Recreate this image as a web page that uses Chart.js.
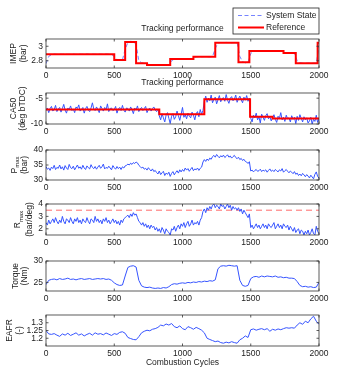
<!DOCTYPE html>
<html lang="en">
  <head>
    <meta charset="utf-8" />
    <title>Tracking performance</title>
    <script src="https://cdn.jsdelivr.net/npm/chart.js@4.4.1/dist/chart.umd.min.js"></script>
    <style>
      * {
        margin: 0;
        padding: 0;
        box-sizing: border-box;
      }
      body {
        background: #ffffff;
      }
      .figure {
        position: relative;
        width: 352px;
        height: 390px;
        overflow: hidden;
      }
      .figure canvas {
        position: absolute;
        left: 0;
        top: 0;
      }
    </style>
  </head>
  <body>
    <div class="figure">
      <canvas id="imep" width="352" height="390"></canvas>
      <canvas id="ca50" width="352" height="390"></canvas>
      <canvas id="pmax" width="352" height="390"></canvas>
      <canvas id="rmax" width="352" height="390"></canvas>
      <canvas id="torque" width="352" height="390"></canvas>
      <canvas id="eafr" width="352" height="390"></canvas>
    </div>
    <script>
      // x axis
      const xTicks = [0, 500, 1000, 1500, 2000];

      // IMEP: reference steps (value holds from the cycle on) and system state every 20 cycles
      const imepRefCycles = [0, 500, 580, 660, 740, 910, 1080, 1240, 1410, 1490, 1740, 1830, 1990, 2000];
      const imepRef = [2.89, 2.81, 3.06, 2.765, 2.74, 2.824, 2.856, 3.05, 2.78, 2.934, 2.907, 2.765, 3.05, 3.05];
      const imepState = [
        2.76, 2.86, 2.885, 2.892, 2.888, 2.891, 2.889, 2.893, 2.888, 2.89,
        2.891, 2.887, 2.892, 2.889, 2.89, 2.893, 2.888, 2.891, 2.889, 2.892,
        2.89, 2.888, 2.893, 2.889, 2.886, 2.86, 2.82, 2.808, 2.812,
        2.96, 3.05, 3.068, 3.063, 3.02,
        2.8, 2.772, 2.766, 2.758, 2.745, 2.741, 2.738, 2.742, 2.739, 2.741, 2.74, 2.742,
        2.8, 2.82, 2.826, 2.822, 2.825, 2.823, 2.826, 2.824,
        2.84, 2.853, 2.857, 2.855, 2.858, 2.856, 2.854, 2.857,
        2.97, 3.045, 3.052, 3.049, 3.053, 3.05, 3.048, 3.052, 3.05,
        2.86, 2.785, 2.772, 2.776,
        2.9, 2.93, 2.936, 2.933, 2.935, 2.932, 2.936, 2.934, 2.935, 2.933, 2.936, 2.934, 2.93,
        2.91, 2.906, 2.908, 2.905,
        2.8, 2.772, 2.766, 2.764, 2.767, 2.765, 2.766, 2.764,
        3.0
      ];
      const imepTicks = [2.8, 3];

      // CA50: reference steps and state every 10 cycles
      const ca50RefCycles = [0, 830, 1160, 1495, 1660, 2000];
      const ca50Ref = [-7.2, -8.1, -5.2, -8.6, -8.95, -8.95];
      const ca50 = [
        -7.4, -6.9, -7.8, -7.0, -6.6, -7.5, -7.2, -6.4, -7.6, -7.1,
        -6.8, -7.7, -7.0, -6.2, -7.3, -7.9, -6.9, -7.2, -6.5, -7.4,
        -7.1, -7.8, -6.7, -7.0, -6.3, -7.5, -7.2, -6.8, -7.9, -7.0,
        -6.6, -7.3, -7.6, -6.9, -5.9, -7.1, -7.4, -6.7, -7.2, -7.8,
        -6.5, -7.0, -7.5, -6.8, -7.3, -6.1, -7.6, -7.0, -6.9, -7.4,
        -7.2, -6.6, -7.9, -7.1, -6.8, -7.4, -6.4, -7.3, -7.7, -6.9,
        -7.0, -7.5, -6.7, -7.2, -8.0, -6.9, -7.3, -6.5, -7.6, -7.1,
        -6.8, -7.4, -7.0, -6.6, -7.8, -7.2, -6.9, -7.5, -7.0, -6.7,
        -7.3, -7.6, -7.1, -8.4, -9.2, -8.0, -8.8, -9.6, -8.3, -7.8,
        -8.9, -9.9, -8.5, -8.0, -9.1, -8.6, -7.5, -8.4, -9.3, -8.1,
        -6.8, -8.7, -8.2, -9.0, -7.9, -8.5, -8.8, -7.7, -8.3, -9.2,
        -8.0, -7.6, -8.6, -7.2, -8.1, -7.4, -5.6, -4.6, -5.8, -5.0,
        -5.5, -4.4, -5.9, -5.2, -4.8, -6.1, -5.3, -4.5, -5.7, -5.1,
        -4.9, -5.6, -4.3, -5.4, -6.0, -5.0, -4.7, -5.5, -5.2, -4.4,
        -5.8, -5.1, -4.6, -5.3, -5.9, -4.8, -5.4, -4.5, -5.6, -5.0,
        -8.9, -9.6, -8.3, -8.8, -7.9, -9.2, -8.6, -9.8, -8.1, -8.7,
        -9.3, -8.4, -8.0, -9.0, -8.6, -9.4, -8.8, -8.2, -9.1, -9.7,
        -8.5, -8.9, -7.8, -9.2, -8.7, -9.5, -8.3, -9.0, -8.8, -9.6,
        -8.4, -9.1, -8.7, -9.9, -8.5, -9.3, -8.2, -8.9, -9.6, -8.6,
        -9.2, -8.8, -9.8, -9.4, -8.7, -10.0, -9.1, -9.5, -8.3, -9.7, -9.0
      ];
      const ca50Ticks = [-10, -5];

      // Pmax every 10 cycles
      const pmax = [
        34.5, 33.6, 34.0, 33.2, 34.3, 33.8, 34.9, 33.5, 34.2, 33.9,
        35.0, 33.7, 34.4, 33.3, 34.8, 34.0, 33.5, 35.2, 34.1, 33.8,
        34.6, 33.4, 34.2, 35.0, 33.9, 34.4, 33.6, 34.9, 34.0, 33.5,
        34.7, 34.1, 33.7, 35.1, 34.2, 33.8, 34.5, 33.6, 34.3, 34.9,
        33.9, 34.4, 35.3, 33.7, 34.2, 33.9, 34.6, 34.0, 33.4, 34.8,
        34.1, 33.6, 34.5, 33.8, 34.3, 33.5, 34.4, 34.0, 34.7, 34.9,
        35.3, 35.0, 35.6, 35.2, 35.8, 35.5, 36.0, 35.7, 34.9, 34.5,
        34.0, 34.3, 33.6, 33.9, 33.3, 34.1, 33.5, 33.0, 33.7, 32.8,
        33.2, 32.5, 32.0, 33.0, 31.8, 32.4, 32.9, 31.5, 32.3, 31.9,
        32.6, 31.2, 32.2, 32.8, 31.7, 32.5, 33.1, 32.3, 33.4, 32.7,
        33.5, 32.9, 34.0, 33.3, 33.8, 32.9, 33.6, 34.2, 33.1, 33.7,
        33.4, 34.0, 33.2, 33.9, 34.3, 36.0, 36.8, 36.2, 37.0, 36.5,
        37.3, 36.9, 37.8, 38.2, 37.6, 38.5, 37.9, 37.4, 38.1, 37.7,
        38.3, 37.5, 37.9, 38.4, 37.6, 38.0, 37.3, 37.8, 38.2, 37.5,
        37.1, 37.6, 36.8, 37.2, 36.5, 36.9, 36.2, 36.0, 35.5, 36.1,
        33.0, 33.3, 32.7, 33.2, 33.5, 32.9, 33.1, 33.6, 32.8, 33.3,
        33.0, 33.4, 32.6, 33.2, 33.7, 32.9, 33.3, 32.8, 33.5, 33.1,
        32.7, 33.4, 33.0, 33.8, 32.6, 33.1, 33.5, 32.9, 32.4, 33.0,
        32.6, 32.1, 32.8, 31.9, 32.3, 31.5, 32.0, 31.4, 32.2, 31.7,
        31.1, 31.8, 31.3, 30.7, 31.6, 31.0, 30.4, 31.9, 32.7, 31.2, 30.6
      ];
      const pmaxTicks = [30, 35, 40];

      // Rmax every 10 cycles, with its limit
      const rmax = [
        2.5, 2.3, 2.7, 2.4, 2.6, 2.8, 2.5, 2.9, 2.6, 2.4,
        2.7, 2.5, 3.0, 2.6, 2.4, 2.8, 2.7, 2.5, 2.9, 2.6,
        2.4, 2.8, 2.6, 2.9, 2.5, 2.7, 2.4, 2.8, 2.6, 2.5,
        2.9, 2.6, 2.4, 2.8, 2.7, 2.5, 3.0, 2.6, 2.8, 2.5,
        2.7, 2.4, 2.8, 2.6, 2.9, 2.5, 2.7, 2.4, 2.6, 2.8,
        2.5, 2.7, 2.4, 2.6, 2.3, 2.7, 2.5, 2.8, 2.9, 3.0,
        3.1, 2.9, 3.2, 3.0, 3.3, 3.1, 3.2, 2.9, 2.6, 2.5,
        2.3, 2.5, 2.2, 2.4, 2.1, 2.3, 2.0, 2.3, 2.1, 2.2,
        1.9, 2.1, 1.8, 2.0, 1.7, 2.1, 1.9, 1.6, 2.0, 1.8,
        1.7, 1.5, 2.0, 1.9, 2.2, 1.8, 2.1, 2.3, 2.0, 2.4,
        2.2, 2.5, 2.1, 2.4, 2.6, 2.2, 2.4, 2.7, 2.3, 2.5,
        2.4, 2.6, 2.3, 2.7, 2.9, 3.4, 3.6, 3.3, 3.7, 3.5,
        3.8, 3.6, 3.9, 4.0, 3.7, 3.9, 3.8, 3.6, 4.0, 3.8,
        3.9, 3.6, 3.8, 4.0, 3.7, 3.9, 3.5, 3.8, 3.6, 3.7,
        3.5, 3.7, 3.4, 3.6, 3.2, 3.5, 3.3, 3.1, 2.9, 3.2,
        2.1, 2.3, 2.0, 2.2, 2.4, 2.1, 2.3, 2.0, 2.2, 2.4,
        2.1, 2.3, 2.0, 2.4, 2.2, 2.1, 2.3, 2.5, 2.0, 2.2,
        2.4, 2.1, 2.3, 2.0, 2.4, 2.2, 2.1, 2.3, 1.9, 2.2,
        2.0, 1.8, 2.1, 1.7, 1.9, 2.0, 1.6, 1.9, 1.8, 1.5,
        1.8, 1.6, 1.9, 1.5, 1.7, 2.0, 1.6, 1.5, 2.2, 1.8, 1.6
      ];
      const rmaxLimit = 3.5;
      const rmaxTicks = [2, 3, 4];

      // Torque every 20 cycles
      const torque = [
        24.5, 25.5, 25.7, 25.8, 25.6, 25.9, 25.7, 25.8, 26.0, 25.7,
        25.8, 25.6, 25.8, 25.9, 25.7, 25.8, 25.9, 25.7, 25.8, 25.9,
        25.8, 25.9, 25.7, 25.8, 25.5, 24.9, 24.5, 24.3, 24.4, 26.5,
        28.5, 28.8, 28.9, 28.6, 25.5, 24.2, 23.9, 23.8, 23.9, 23.7,
        23.6, 23.7, 23.6, 23.8, 23.7, 24.0, 24.5, 24.7, 24.6, 24.8,
        24.9, 24.8, 25.0, 24.9, 25.1, 25.0, 25.2, 25.1, 25.3, 25.2,
        25.4, 25.3, 25.6, 28.2, 28.8, 28.9, 28.8, 29.0, 28.9, 28.8,
        28.9, 25.5, 24.3, 24.1, 24.3, 25.9, 26.3, 26.4, 26.2, 26.5,
        26.3, 26.5, 26.4, 26.3, 26.5, 26.2, 26.3, 26.1, 26.2, 26.0,
        26.0, 25.9, 25.2, 24.3, 24.0, 24.1, 23.9, 24.0, 23.8, 23.9,
        25.0
      ];
      const torqueTicks = [25, 30];

      // EAFR every 20 cycles
      const eafr = [
        1.25, 1.228, 1.225, 1.23, 1.22, 1.212, 1.228, 1.22, 1.232, 1.218,
        1.226, 1.235, 1.22, 1.228, 1.215, 1.225, 1.232, 1.22, 1.235, 1.226,
        1.23, 1.222, 1.234, 1.226, 1.218, 1.23, 1.225, 1.238, 1.242, 1.232,
        1.205, 1.198, 1.192, 1.19, 1.21, 1.235, 1.245, 1.252, 1.248, 1.258,
        1.262, 1.27, 1.285, 1.28, 1.292, 1.285, 1.295, 1.275, 1.268, 1.28,
        1.262, 1.255, 1.275, 1.268, 1.258, 1.27, 1.262, 1.252, 1.235, 1.2,
        1.192, 1.185, 1.178, 1.182, 1.172, 1.168, 1.175, 1.17, 1.178, 1.172,
        1.168, 1.19, 1.2, 1.215, 1.205, 1.255, 1.26, 1.252, 1.258, 1.262,
        1.255, 1.262, 1.245, 1.258, 1.252, 1.26, 1.255, 1.262, 1.268, 1.265,
        1.268, 1.265, 1.285, 1.3, 1.29, 1.31, 1.3, 1.325, 1.342, 1.31,
        1.29
      ];
      const eafrTicks = [1.2, 1.25, 1.3];

      const FONT = '"Liberation Sans", Arial, Helvetica, sans-serif';
      const BLUE = "#3553ff";

      const cyclesBy10 = ca50.map((_, i) => i * 10);
      const cyclesBy20 = torque.map((_, i) => i * 20);
      const toPoints = (xs, ys) => ys.map((y, i) => ({ x: xs[i], y: y }));

      // draws the box, inward ticks, y label, caption, x label and legend
      const framePlugin = {
        id: "frame",
        afterDraw(chart, args, opts) {
          const ctx = chart.ctx;
          const a = chart.chartArea;
          const xs = chart.scales.x;
          const ys = chart.scales.y;
          ctx.save();
          ctx.strokeStyle = "#333";
          ctx.lineWidth = 0.8;
          ctx.strokeRect(a.left, a.top, a.right - a.left, a.bottom - a.top);
          const tl = 2.5;
          ctx.beginPath();
          xs.ticks.forEach((t) => {
            const px = xs.getPixelForValue(t.value);
            ctx.moveTo(px, a.bottom);
            ctx.lineTo(px, a.bottom - tl);
            ctx.moveTo(px, a.top);
            ctx.lineTo(px, a.top + tl);
          });
          ys.ticks.forEach((t) => {
            const py = ys.getPixelForValue(t.value);
            ctx.moveTo(a.left, py);
            ctx.lineTo(a.left + tl, py);
            ctx.moveTo(a.right, py);
            ctx.lineTo(a.right - tl, py);
          });
          ctx.stroke();

          ctx.fillStyle = "#222";
          ctx.textBaseline = "middle";
          const cy = (a.top + a.bottom) / 2;
          // y label, rotated, one or more lines of [text, subscript] pieces
          (opts.ylabel || []).forEach((line, li) => {
            const x0 = opts.ylabelX[li];
            const pieces = line.map(([text, sub]) => {
              ctx.font = (sub ? 6 : 8.5) + "px " + FONT;
              return { text, sub, w: ctx.measureText(text).width };
            });
            const total = pieces.reduce((s, p) => s + p.w, 0);
            ctx.save();
            ctx.translate(x0, cy);
            ctx.rotate(-Math.PI / 2);
            ctx.textAlign = "left";
            let u = -total / 2;
            pieces.forEach((p) => {
              ctx.font = (p.sub ? 6 : 8.5) + "px " + FONT;
              ctx.fillText(p.text, u, p.sub ? 3 : 0);
              u += p.w;
            });
            ctx.restore();
          });

          ctx.font = "8.5px " + FONT;
          ctx.textAlign = "center";
          const cx = (a.left + a.right) / 2;
          if (opts.caption) ctx.fillText(opts.caption, cx, a.top - 10);
          if (opts.xlabel) ctx.fillText(opts.xlabel, cx, a.bottom + 17);

          if (opts.legend) {
            const L = opts.legend;
            ctx.fillStyle = "#fff";
            ctx.fillRect(L.x, L.y, L.w, L.h);
            ctx.strokeStyle = "#222";
            ctx.lineWidth = 0.8;
            ctx.strokeRect(L.x, L.y, L.w, L.h);
            chart.data.datasets.forEach((ds, i) => {
              const yy = L.y + 7.5 + i * 12;
              ctx.beginPath();
              ctx.setLineDash(ds.borderDash || []);
              ctx.strokeStyle = ds.borderColor;
              ctx.lineWidth = ds.borderWidth;
              ctx.moveTo(L.x + 5, yy);
              ctx.lineTo(L.x + 31, yy);
              ctx.stroke();
              ctx.setLineDash([]);
              ctx.fillStyle = "#222";
              ctx.textAlign = "left";
              ctx.fillText(ds.label, L.x + 33, yy);
            });
          }
          ctx.restore();
        },
      };

      function setTicks(list) {
        return (scale) => {
          scale.ticks = list.map((v) => ({ value: v }));
        };
      }

      function makePanel(id, top, height, yMin, yMax, yTicks, datasets, frame) {
        return new Chart(document.getElementById(id), {
          type: "line",
          data: { datasets: datasets },
          plugins: [framePlugin],
          options: {
            responsive: false,
            animation: false,
            events: [],
            layout: {
              padding: { left: 0, right: 33, top: top, bottom: 390 - top - height - 14 },
            },
            elements: { point: { radius: 0 }, line: { tension: 0 } },
            plugins: {
              legend: { display: false },
              tooltip: { enabled: false },
              frame: frame,
            },
            scales: {
              x: {
                type: "linear",
                min: 0,
                max: 2000,
                afterBuildTicks: setTicks(xTicks),
                afterFit: (s) => {
                  s.height = 14;
                },
                grid: { display: false, drawTicks: false },
                border: { display: false },
                ticks: {
                  padding: 3,
                  maxRotation: 0,
                  autoSkip: false,
                  color: "#222",
                  font: { family: FONT, size: 8.5 },
                  callback: (v) => String(v),
                },
              },
              y: {
                type: "linear",
                min: yMin,
                max: yMax,
                afterBuildTicks: setTicks(yTicks),
                afterFit: (s) => {
                  s.width = 46;
                },
                grid: { display: false, drawTicks: false },
                border: { display: false },
                ticks: {
                  padding: 3,
                  autoSkip: false,
                  color: "#222",
                  font: { family: FONT, size: 8.5 },
                  callback: (v) => String(v),
                },
              },
            },
          },
        });
      }

      const thin = (label, points) => ({
        label: label,
        data: points,
        borderColor: BLUE,
        borderWidth: 1,
        order: 1,
      });

      makePanel(
        "imep", 39, 29, 2.7, 3.1, imepTicks,
        [
          {
            label: "System State",
            data: toPoints(cyclesBy20, imepState),
            borderColor: "#6676ff",
            borderWidth: 0.9,
            borderDash: [4, 2.5],
            order: 1,
          },
          {
            label: "Reference",
            data: toPoints(imepRefCycles, imepRef),
            borderColor: "#ff0000",
            borderWidth: 2,
            stepped: true,
            order: 0,
          },
        ],
        {
          ylabel: [[["IMEP", 0]], [["(bar)", 0]]],
          ylabelX: [14, 23.5],
          caption: "Tracking performance",
          legend: { x: 233, y: 8, w: 86, h: 26 },
        }
      );

      makePanel(
        "ca50", 93, 31, -10, -4, ca50Ticks,
        [
          thin("System State", toPoints(cyclesBy10, ca50)),
          {
            label: "Reference",
            data: toPoints(ca50RefCycles, ca50Ref),
            borderColor: "#ff0000",
            borderWidth: 2,
            stepped: true,
            order: 0,
          },
        ],
        {
          ylabel: [[["CA50", 0]], [["(deg bTDC)", 0]]],
          ylabelX: [13.5, 23],
          caption: "Tracking performance",
        }
      );

      makePanel(
        "pmax", 150, 30, 30, 40, pmaxTicks,
        [thin("Pmax", toPoints(cyclesBy10, pmax))],
        {
          ylabel: [[["P", 0], ["max", 1]], [["(bar)", 0]]],
          ylabelX: [14.5, 25],
        }
      );

      makePanel(
        "rmax", 204, 31, 1.5, 4, rmaxTicks,
        [
          thin("Rmax", toPoints(cyclesBy10, rmax)),
          {
            label: "Limit",
            data: [
              { x: xTicks[0], y: rmaxLimit },
              { x: xTicks[xTicks.length - 1], y: rmaxLimit },
            ],
            borderColor: "#ff6b6b",
            borderWidth: 1,
            borderDash: [6, 4],
            order: 2,
          },
        ],
        {
          ylabel: [[["R", 0], ["max", 1]], [["(bar/deg)", 0]]],
          ylabelX: [18, 29.5],
        }
      );

      makePanel(
        "torque", 261, 30, 23, 30, torqueTicks,
        [thin("Torque", toPoints(cyclesBy20, torque))],
        {
          ylabel: [[["Torque", 0]], [["(Nm)", 0]]],
          ylabelX: [15.5, 25],
        }
      );

      makePanel(
        "eafr", 315, 31, 1.15, 1.35, eafrTicks,
        [thin("EAFR", toPoints(cyclesBy20, eafr))],
        {
          ylabel: [[["EAFR", 0]], [["(-)", 0]]],
          ylabelX: [9.5, 19.5],
          xlabel: "Combustion Cycles",
        }
      );
    </script>
  </body>
</html>
